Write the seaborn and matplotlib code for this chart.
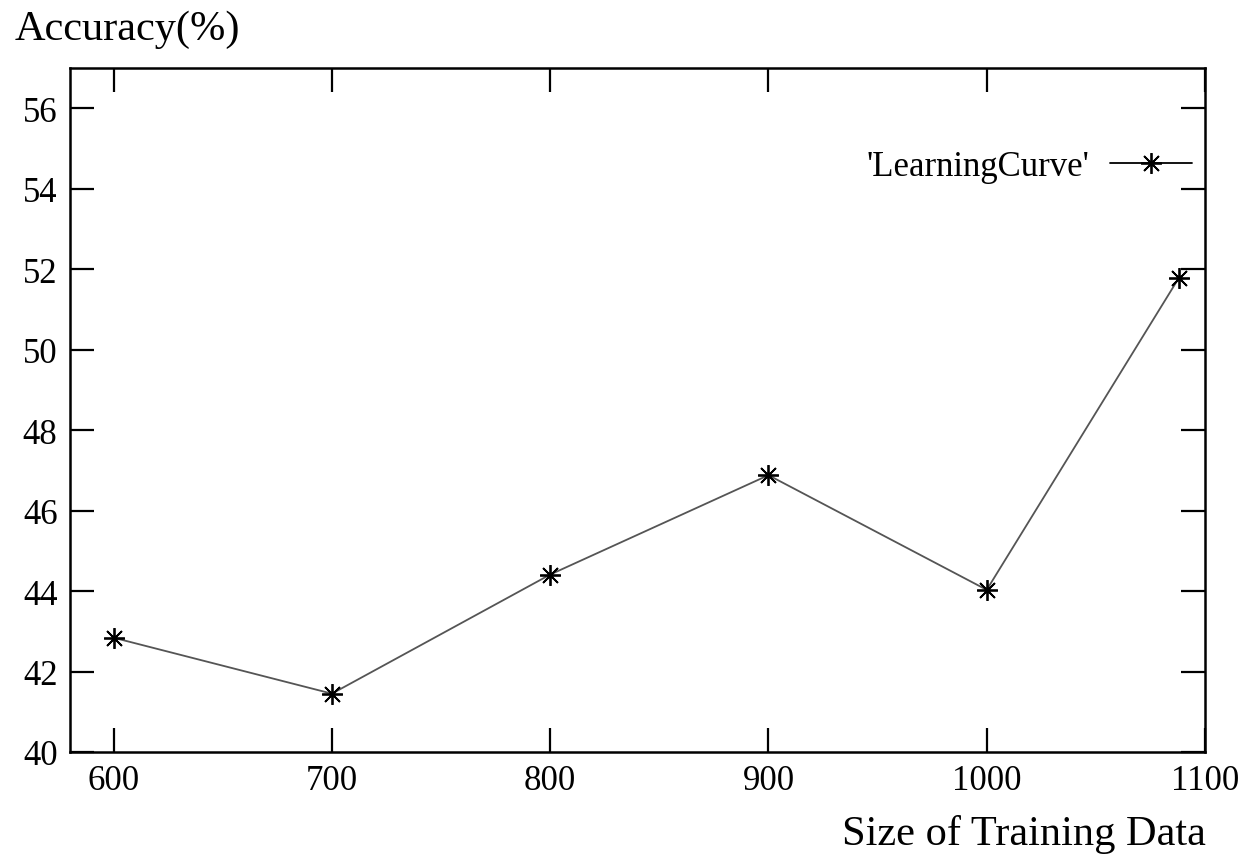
import pandas as pd
import matplotlib.pyplot as plt
import seaborn as sns

train_size = [600, 700, 800, 900, 1000, 1088]
accuracy = [42.84, 41.45, 44.41, 46.88, 44.03, 51.78]
x_ticks = [600, 700, 800, 900, 1000, 1100]
y_ticks = [40, 42, 44, 46, 48, 50, 52, 54, 56]

sns.set_style("ticks")
plt.rcParams['font.family'] = ['Liberation Serif', 'DejaVu Serif']
plt.rcParams['text.color'] = 'black'
plt.rcParams['xtick.color'] = 'black'
plt.rcParams['ytick.color'] = 'black'
plt.rcParams['axes.edgecolor'] = 'black'

df = pd.DataFrame({"size": train_size, "acc": accuracy})

fig = plt.figure(figsize=(12.53, 8.62), dpi=100)
ax = fig.add_axes([70 / 1253, 1 - 753 / 862, 1135 / 1253, 684 / 862])

sns.lineplot(data=df, x="size", y="acc", ax=ax, color="#555555", linewidth=1.3,
             marker=(8, 2, 0), markersize=15, markeredgecolor="black",
             markeredgewidth=1.3, label="'LearningCurve'")

ax.set_xlim(580, 1100)
ax.set_ylim(40, 57)
ax.set_xticks(x_ticks)
ax.set_yticks(y_ticks)
ax.tick_params(direction="in", length=17, width=1.6, labelsize=25,
               top=True, right=True, pad=9)
for s in ax.spines.values():
    s.set_linewidth(1.8)
    s.set_visible(True)

ax.set_xlabel("")
ax.set_ylabel("")
fig.text(15 / 1253, 1 - 30 / 862, "Accuracy(%)", fontsize=30.5, va="center", ha="left")
fig.text(1206 / 1253, 1 - 835 / 862, "Size of Training Data", fontsize=30.5,
         va="center", ha="right")

leg = ax.legend(loc="upper right", frameon=False, markerfirst=False, fontsize=25,
                handlelength=2.35, handletextpad=0.6,
                bbox_to_anchor=(1.01, 0.915), borderaxespad=0.3)
for line in leg.get_lines():
    line.set_color("black")
    line.set_markeredgecolor("black")

fig.savefig("out.png", dpi=100)
